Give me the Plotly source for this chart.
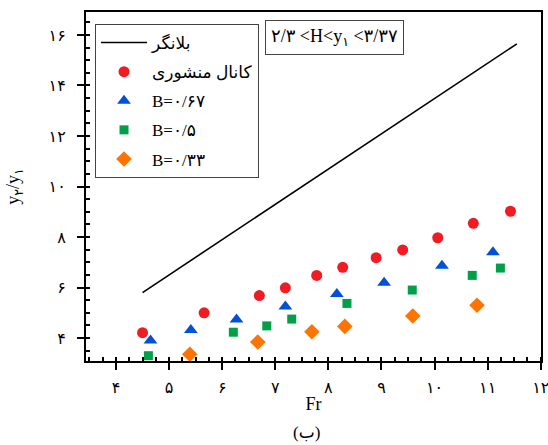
import plotly.graph_objects as go

# ---------------- data ----------------
belanger_fr = [4.5, 11.55]
belanger_y = [5.8, 15.65]

prism_fr = [4.50, 5.66, 6.70, 7.19, 7.78, 8.27, 8.90, 9.40, 10.06, 10.73, 11.43]
prism_y = [4.21, 5.00, 5.68, 5.99, 6.48, 6.80, 7.18, 7.49, 7.97, 8.54, 9.02]

b067_fr = [4.65, 5.41, 6.27, 7.19, 8.16, 9.05, 10.14, 11.10]
b067_y = [3.90, 4.32, 4.73, 5.25, 5.74, 6.19, 6.86, 7.40]

b05_fr = [4.61, 6.21, 6.84, 7.31, 8.35, 9.58, 10.71, 11.24]
b05_y = [3.30, 4.23, 4.48, 4.75, 5.37, 5.90, 6.48, 6.77]

b033_fr = [5.39, 6.67, 7.69, 8.31, 9.59, 10.80]
b033_y = [3.36, 3.84, 4.25, 4.46, 4.87, 5.30]

x_ticks = [4, 5, 6, 7, 8, 9, 10, 11, 12]
x_ticktext = ["۴", "۵", "۶", "۷", "۸", "۹", "۱۰", "۱۱", "۱۲"]
y_ticks = [4, 6, 8, 10, 12, 14, 16]
y_ticktext = ["۴", "۶", "۸", "۱۰", "۱۲", "۱۴", "۱۶"]

names = ["بلانگر", "کانال منشوری", "B=۰/۶۷", "B=۰/۵", "B=۰/۳۳"]
FONT = "Liberation Serif, Times New Roman, DejaVu Sans, serif"

fig = go.Figure()
fig.add_trace(go.Scatter(x=belanger_fr, y=belanger_y, mode="lines", name=names[0],
                         line=dict(color="black", width=1.6), legendgroup="a"))
fig.add_trace(go.Scatter(x=prism_fr, y=prism_y, mode="markers", name=names[1],
                         marker=dict(symbol="circle", size=11, color="#f01c22"), legendgroup="b"))
fig.add_trace(go.Scatter(x=b067_fr, y=b067_y, mode="markers", name=names[2],
                         marker=dict(symbol="triangle-up", size=12, color="#0050d8"), legendgroup="c"))
fig.add_trace(go.Scatter(x=b05_fr, y=b05_y, mode="markers", name=names[3],
                         marker=dict(symbol="square", size=9, color="#00a048"), legendgroup="d"))
fig.add_trace(go.Scatter(x=b033_fr, y=b033_y, mode="markers", name=names[4],
                         marker=dict(symbol="diamond", size=12, color="#ff7300"), legendgroup="e"))

axis_common = dict(
    showline=True, linecolor="black", linewidth=2, mirror=True,
    showgrid=False, zeroline=False, automargin=False,
    ticks="outside", ticklen=7, tickwidth=2, tickcolor="black",
    tickfont=dict(family=FONT, size=16, color="black"),
    ticklabeloverflow="allow",
)

fig.update_xaxes(range=[3.435, 12.005], tickvals=x_ticks, ticktext=x_ticktext,
                 minor=dict(dtick=0.25, ticks="inside", ticklen=4, tickwidth=1.5, tickcolor="black"),
                 title=dict(text="Fr", font=dict(family=FONT, size=18, color="black"), standoff=2),
                 ticklabelstandoff=4,
                 **axis_common)
fig.update_yaxes(range=[3.09, 16.91], tickvals=y_ticks, ticktext=y_ticktext,
                 minor=dict(dtick=0.5, ticks="inside", ticklen=4, tickwidth=1.5, tickcolor="black"),
                 title=dict(text="y<sub>۲</sub>/y<sub>۱</sub>", font=dict(family=FONT, size=18, color="black"), standoff=24),
                 ticklabelstandoff=8,
                 **axis_common)

fig.add_annotation(xref="paper", yref="paper", x=0.547, y=0.926, yanchor="middle",
                   text="۲/۳ &lt;H&lt;y<sub>۱</sub> &lt;۳/۳۷", showarrow=False,
                   font=dict(family=FONT, size=18, color="black"),
                   bordercolor="#444", borderwidth=1, borderpad=5, bgcolor="white")
fig.add_annotation(xref="paper", yref="paper", x=0.484, y=-0.206, yanchor="middle",
                   text="(ب)", showarrow=False,
                   font=dict(family=FONT, size=17, color="black"))

fig.update_layout(
    width=548, height=445,
    margin=dict(l=86, r=7, t=12, b=84),
    paper_bgcolor="white", plot_bgcolor="white",
    font=dict(family=FONT, color="black"),
    legend=dict(x=0.0198, y=0.9656, xanchor="left", yanchor="top",
                bordercolor="#444", borderwidth=1, bgcolor="white",
                font=dict(family=FONT, size=17, color="black"),
                tracegroupgap=4, itemwidth=46),
)

fig.write_html("out.html", config={"displayModeBar": False},
               post_script="document.body.style.margin='0';document.body.style.padding='0';")
